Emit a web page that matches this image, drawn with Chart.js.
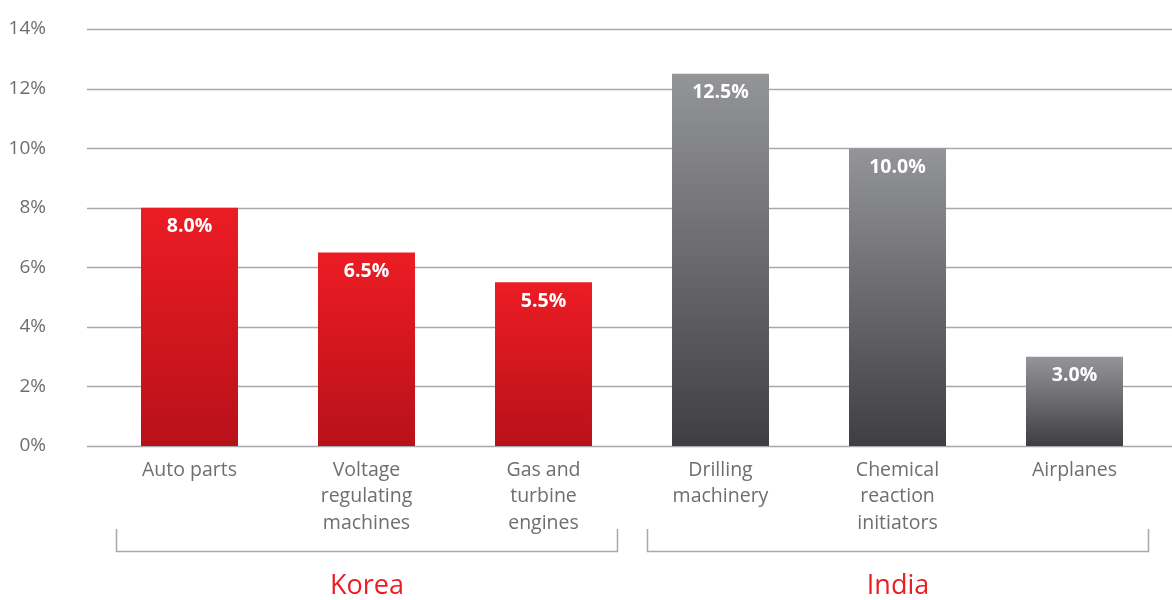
<!DOCTYPE html>
<html lang="en">
<head>
  <meta charset="UTF-8">
  <title>Korea / India</title>
  <script src="https://cdn.jsdelivr.net/npm/chart.js"></script>
  <style>
    html, body { margin: 0; padding: 0; background: #fff; }
    .card { position: relative; width: 1172px; height: 600px; }
  </style>
</head>
<body>
  <div class="card">
    <canvas id="productChart"></canvas>
  </div>

  <script>
    // categories (multi-line tick labels), values in %, group of each bar
    const products = [
      ['Auto parts'],
      ['Voltage', 'regulating', 'machines'],
      ['Gas and', 'turbine', 'engines'],
      ['Drilling', 'machinery'],
      ['Chemical', 'reaction', 'initiators'],
      ['Airplanes']
    ];
    const shares = [8.0, 6.5, 5.5, 12.5, 10.0, 3.0];
    const countries = ['Korea', 'India'];
    const countryOf = [0, 0, 0, 1, 1, 1];
    const yTicks = [0, 2, 4, 6, 8, 10, 12, 14];

    const FONT = "'Open Sans', 'Noto Sans', sans-serif";
    const TEXT_GRAY = '#6d6e71';
    const LINE_GRAY = '#a7a9ac';
    const RED = '#ed1c24';
    // top / bottom colour of each country's bars
    const barColors = [
      ['#ec1c24', '#b8111a'],
      ['#949598', '#3f3f42']
    ];

    function barGradient(context) {
      var chart = context.chart;
      if (!chart.chartArea || context.type !== 'data') return barColors[0][0];
      var y = chart.scales.y;
      var i = context.dataIndex;
      var top = y.getPixelForValue(shares[i]);
      var base = y.getPixelForValue(0);
      var c = barColors[countryOf[i]];
      var g = chart.ctx.createLinearGradient(0, top, 0, base);
      g.addColorStop(0, c[0]);
      g.addColorStop(1, c[1]);
      return g;
    }

    // horizontal grid lines, a little wider than the bar area
    const gridLines = {
      id: 'gridLines',
      beforeDatasetsDraw(chart) {
        var ctx = chart.ctx, y = chart.scales.y, area = chart.chartArea;
        ctx.save();
        ctx.strokeStyle = LINE_GRAY;
        ctx.lineWidth = 1.5;
        yTicks.forEach(function (t) {
          var py = Math.round(y.getPixelForValue(t)) + 0.5;
          ctx.beginPath();
          ctx.moveTo(area.left - 14, py);
          ctx.lineTo(area.right + 9, py);
          ctx.stroke();
        });
        ctx.restore();
      }
    };

    // white value inside the top of each bar
    const valueLabels = {
      id: 'valueLabels',
      afterDatasetsDraw(chart) {
        var ctx = chart.ctx;
        var meta = chart.getDatasetMeta(0);
        ctx.save();
        ctx.fillStyle = '#ffffff';
        ctx.font = 'bold 19.5px ' + FONT;
        ctx.textAlign = 'center';
        ctx.textBaseline = 'middle';
        meta.data.forEach(function (bar, i) {
          ctx.fillText(shares[i].toFixed(1) + '%', bar.x, bar.y + 19);
        });
        ctx.restore();
      }
    };

    // bracket under each country's group of bars, with the country name
    const countryBrackets = {
      id: 'countryBrackets',
      afterDraw(chart) {
        var ctx = chart.ctx;
        var meta = chart.getDatasetMeta(0);
        var base = chart.chartArea.bottom;
        ctx.save();
        countries.forEach(function (name, g) {
          var idx = [];
          countryOf.forEach(function (c, i) { if (c === g) idx.push(i); });
          var first = meta.data[idx[0]];
          var last = meta.data[idx[idx.length - 1]];
          var x0 = Math.round(first.x - first.width / 2 - 25) + 0.5;
          var x1 = Math.round(last.x + last.width / 2 + 25) + 0.5;
          ctx.strokeStyle = LINE_GRAY;
          ctx.lineWidth = 1.5;
          ctx.beginPath();
          ctx.moveTo(x0, base + 83);
          ctx.lineTo(x0, base + 105.5);
          ctx.lineTo(x1, base + 105.5);
          ctx.lineTo(x1, base + 83);
          ctx.stroke();

          ctx.fillStyle = RED;
          ctx.font = '27px ' + FONT;
          ctx.textAlign = 'center';
          ctx.textBaseline = 'middle';
          ctx.fillText(name, (x0 + x1) / 2, base + 140);
        });
        ctx.restore();
      }
    };

    const ctx = document.getElementById('productChart').getContext('2d');
    const productChart = new Chart(ctx, {
      type: 'bar',
      data: {
        labels: products,
        datasets: [{
          data: shares,
          backgroundColor: barGradient,
          borderWidth: 0,
          categoryPercentage: 1,
          barPercentage: 0.548
        }]
      },
      options: {
        responsive: true,
        maintainAspectRatio: false,
        animation: false,
        layout: { padding: { top: 29, right: 9, left: 0, bottom: 0 } },
        plugins: {
          legend: { display: false },
          tooltip: { enabled: false }
        },
        scales: {
          x: {
            grid: { display: false },
            border: { display: false },
            ticks: {
              color: TEXT_GRAY,
              font: { family: FONT, size: 19.5, lineHeight: 1.36 },
              padding: 3,
              maxRotation: 0,
              autoSkip: false
            },
            afterFit: function (scale) { scale.height = 154; }
          },
          y: {
            min: 0,
            max: 14,
            grid: { display: false, drawTicks: false },
            border: { display: false },
            afterBuildTicks: function (scale) {
              scale.ticks = yTicks.map(function (v) { return { value: v }; });
            },
            ticks: {
              color: TEXT_GRAY,
              font: { family: FONT, size: 19 },
              padding: 55,
              callback: function (v) { return v + '%'; }
            },
            afterFit: function (scale) {
              // the big label padding would otherwise push the plot down
              scale.width = 101;
              scale.paddingTop = 0;
              scale.paddingBottom = 0;
            }
          }
        }
      },
      plugins: [gridLines, valueLabels, countryBrackets]
    });
  </script>
</body>
</html>
